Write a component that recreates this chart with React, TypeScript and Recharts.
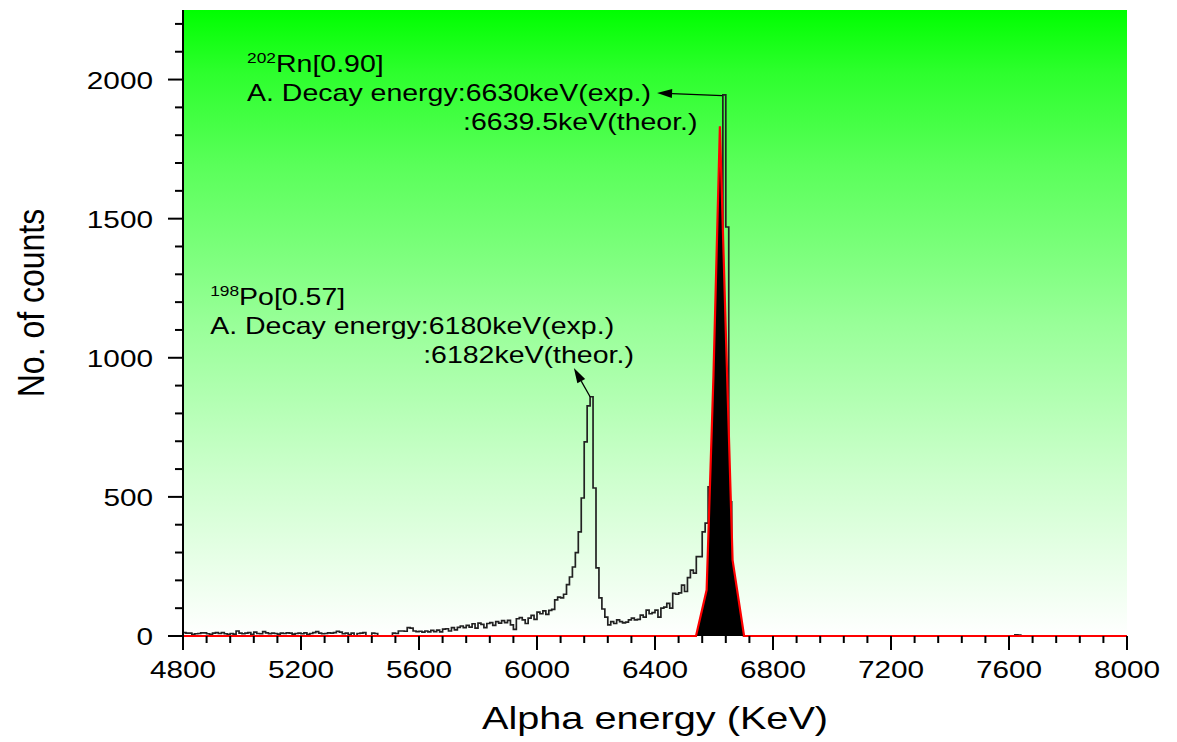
import React from 'react';
import {
  ComposedChart,
  Area,
  XAxis,
  YAxis,
  CartesianGrid,
  ReferenceLine,
  ReferenceDot,
  Label,
} from 'recharts';

// Alpha spectrum histogram: 10 keV bins starting at 4800 keV
const BIN_START = 4800;
const BIN_WIDTH = 10;
const HIST_END = 8000;

const counts: number[] = [
  // 4800
  12, 10, 10, 6, 8, 9, 11, 11, 8, 6,
  // 4900
  10, 12, 9, 12, 8, 6, 9, 7, 18, 10,
  // 5000
  8, 10, 12, 6, 14, 9, 8, 16, 11, 8,
  // 5100
  10, 9, 7, 10, 9, 11, 10, 7, 9, 10,
  // 5200
  8, 11, 6, 9, 12, 16, 10, 8, 9, 11,
  // 5300
  10, 12, 17, 14, 8, 10, 5, 10, 0, 9,
  // 5400
  10, 12, 0, 0, 10, 9, 0, 0, 0, 0,
  // 5500
  0, 10, 9, 18, 18, 17, 30, 28, 18, 16,
  // 5600
  17, 14, 18, 15, 20, 16, 21, 15, 25, 26,
  // 5700
  18, 30, 22, 31, 36, 30, 38, 32, 44, 28,
  // 5800
  46, 42, 30, 45, 48, 38, 52, 46, 55, 48,
  // 5900
  56, 40, 24, 62, 66, 58, 45, 64, 74, 60,
  // 6000
  86, 80, 90, 78, 92, 96, 130, 140, 137, 150,
  // 6100
  185, 212, 248, 300, 374, 496, 698, 827, 860, 532,
  // 6200
  245, 137, 97, 68, 40, 52, 45, 58, 52, 47,
  // 6300
  50, 58, 64, 58, 60, 75, 68, 93, 80, 84,
  // 6400
  93, 68, 100, 104, 117, 100, 153, 150, 155, 183,
  // 6500
  160, 210, 237, 226, 285, 285, 374, 406, 536, 650,
  // 6600
  850, 1100, 1350, 1945, 1470, 482, 200, 60, 15, 5,
  // 6700
  0, 0, 0, 0, 0, 0, 0, 0, 0, 0,
  // 6800
  0, 0, 0, 0, 0, 0, 0, 0, 0, 0,
  // 6900
  0, 0, 0, 0, 0, 0, 0, 0, 0, 0,
  // 7000
  0, 0, 0, 0, 0, 0, 0, 0, 0, 0,
  // 7100
  0, 0, 0, 0, 0, 0, 0, 0, 0, 0,
  // 7200
  0, 0, 0, 0, 0, 0, 0, 0, 0, 0,
  // 7300
  0, 0, 0, 0, 0, 0, 0, 0, 0, 0,
  // 7400
  0, 0, 0, 0, 0, 0, 0, 0, 0, 0,
  // 7500
  0, 0, 0, 0, 0, 0, 0, 0, 0, 0,
  // 7600
  0, 0, 4, 3, 0, 0, 0, 0, 0, 0,
  // 7700
  0, 0, 0, 0, 0, 0, 0, 0, 0, 0,
  // 7800
  0, 0, 0, 0, 0, 0, 0, 0, 0, 0,
  // 7900
  0, 0, 0, 0, 0, 0, 0, 0, 0, 0,
];

// Fitted 202Rn peak (filled), zero elsewhere
const fitEnergy: number[] = [4800, 6539, 6575, 6598, 6620, 6641, 6663, 6702, 8000];
const fitCounts: number[] = [0, 0, 165, 930, 1832, 1060, 273, 0, 0];

// Axis ticks
const xTicks: number[] = [
  4800, 4880, 4960, 5040, 5120, 5200, 5280, 5360, 5440, 5520, 5600, 5680, 5760, 5840,
  5920, 6000, 6080, 6160, 6240, 6320, 6400, 6480, 6560, 6640, 6720, 6800, 6880, 6960,
  7040, 7120, 7200, 7280, 7360, 7440, 7520, 7600, 7680, 7760, 7840, 7920, 8000,
];
const xLabelTicks: number[] = [4800, 5200, 5600, 6000, 6400, 6800, 7200, 7600, 8000];
const yTicks: number[] = [
  0, 100, 200, 300, 400, 500, 600, 700, 800, 900, 1000, 1100, 1200, 1300, 1400, 1500,
  1600, 1700, 1800, 1900, 2000, 2100, 2200,
];
const yLabelTicks: number[] = [0, 500, 1000, 1500, 2000];

// Peak annotations
const rnPeakEnergy = 6630;
const poPeakEnergy = 6180;
const rnArrowTip = { x: 6407, y: 1952 };
const poArrowTip = { x: 6125, y: 963 };
const rnTextAnchor = { x: 5017, y: 1923 };
const poTextAnchor = { x: 4892, y: 1086 };

const histData = counts
  .map((c, i) => ({ energy: BIN_START + i * BIN_WIDTH, counts: c }))
  .concat([{ energy: HIST_END, counts: 0 }]);
const fitData = fitEnergy.map((e, i) => ({ energy: e, fit: fitCounts[i] }));
const countAt = (e: number) => histData.find((d) => d.energy === e)?.counts ?? 0;

const FONT = '"Liberation Sans", Arial, Helvetica, sans-serif';
const SX = 1.24;

const XTick = (props: any) => {
  const { x, y, payload } = props;
  const v = payload.value as number;
  const major = xLabelTicks.includes(v);
  return (
    <g>
      <line x1={x} x2={x} y1={y} y2={y + (major ? 14 : 7)} stroke="#000" strokeWidth={2} />
      {major && (
        <text
          transform={`translate(${x},${y + 42}) scale(${SX},1)`}
          textAnchor="middle"
          fontSize={24}
          fontFamily={FONT}
          fill="#000"
        >
          {v}
        </text>
      )}
    </g>
  );
};

const YTick = (props: any) => {
  const { x, y, payload } = props;
  const v = payload.value as number;
  const major = yLabelTicks.includes(v);
  return (
    <g>
      <line x1={x - (major ? 15 : 8)} x2={x} y1={y} y2={y} stroke="#000" strokeWidth={2} />
      {major && (
        <text
          transform={`translate(${x - 30},${y + 9}) scale(${SX},1)`}
          textAnchor="end"
          fontSize={24}
          fontFamily={FONT}
          fill="#000"
        >
          {v}
        </text>
      )}
    </g>
  );
};

const XTitle = (props: any) => {
  const vb = props.viewBox || {};
  const cx = vb.x + vb.width / 2;
  return (
    <text
      transform={`translate(${cx},${vb.y + 93}) scale(${SX},1)`}
      textAnchor="middle"
      fontSize={32}
      fontFamily={FONT}
      fill="#000"
    >
      Alpha energy (KeV)
    </text>
  );
};

const YTitle = (props: any) => {
  const vb = props.viewBox || {};
  const cy = vb.y + vb.height / 2 - 20;
  return (
    <text
      transform={`translate(36,${cy}) scale(1.16,1) rotate(-90)`}
      textAnchor="middle"
      fontSize={32}
      fontFamily={FONT}
      fill="#000"
    >
      No. of counts
    </text>
  );
};

// Line with a filled arrowhead at the left end
const Arrow = (p: any) => {
  const a = { x: p.x1, y: p.y1 };
  const b = { x: p.x2, y: p.y2 };
  const tip = a.x < b.x ? a : b;
  const tail = a.x < b.x ? b : a;
  const ang = Math.atan2(tip.y - tail.y, tip.x - tail.x);
  const L = 15;
  const W = 4.5;
  const bx = tip.x - L * Math.cos(ang);
  const by = tip.y - L * Math.sin(ang);
  const px = -Math.sin(ang) * W;
  const py = Math.cos(ang) * W;
  return (
    <g>
      <line x1={tail.x} y1={tail.y} x2={bx} y2={by} stroke="#000" strokeWidth={1.3} />
      <polygon
        points={`${tip.x},${tip.y} ${bx + px},${by + py} ${bx - px},${by - py}`}
        fill="#000"
      />
    </g>
  );
};

const textLine = (dx: number, dy: number, content: React.ReactNode, key: string, cx: number, cy: number) => (
  <text
    key={key}
    transform={`translate(${cx + dx},${cy + dy}) scale(${SX},1)`}
    fontSize={23}
    fontFamily={FONT}
    fill="#000"
  >
    {content}
  </text>
);

const makeNote = (mass: string, nuclide: string, exp: string, theor: string, theorDx: number) =>
  (p: any) => {
    const { cx, cy } = p;
    return (
      <g>
        {textLine(
          0,
          -29,
          <>
            <tspan fontSize={14} dy={-9}>{mass}</tspan>
            <tspan dy={9}>{nuclide}</tspan>
          </>,
          'l1',
          cx,
          cy
        )}
        {textLine(0, 0, exp, 'l2', cx, cy)}
        {textLine(theorDx, 29, theor, 'l3', cx, cy)}
      </g>
    );
  };

const rnNote = makeNote('202', 'Rn[0.90]', 'A. Decay energy:6630keV(exp.)', ':6639.5keV(theor.)', 216);
const poNote = makeNote('198', 'Po[0.57]', 'A. Decay energy:6180keV(exp.)', ':6182keV(theor.)', 213);

export default function App() {
  return (
    <ComposedChart
      width={1160}
      height={730}
      margin={{ top: 2, right: 41, bottom: 2, left: 0 }}
    >
      <defs>
        <linearGradient id="plotBg" x1="0" y1="0" x2="0" y2="1">
          <stop offset="0" stopColor="rgb(0,255,0)" />
          <stop offset="0.1" stopColor="rgb(45,255,45)" />
          <stop offset="0.25" stopColor="rgb(90,255,90)" />
          <stop offset="0.5" stopColor="rgb(152,255,152)" />
          <stop offset="0.75" stopColor="rgb(206,255,206)" />
          <stop offset="1" stopColor="rgb(255,255,255)" />
        </linearGradient>
      </defs>
      <CartesianGrid horizontal={false} vertical={false} fill="url(#plotBg)" stroke="none" />
      <XAxis
        type="number"
        dataKey="energy"
        domain={[4800, 8000]}
        ticks={xTicks}
        interval={0}
        axisLine={false}
        tickLine={false}
        tickSize={0}
        tickMargin={0}
        tick={<XTick />}
        height={100}
      >
        <Label content={<XTitle />} />
      </XAxis>
      <YAxis
        type="number"
        domain={[0, 2250]}
        ticks={yTicks}
        interval={0}
        axisLine={{ stroke: '#000', strokeWidth: 2 }}
        tickLine={false}
        tickSize={0}
        tickMargin={0}
        tick={<YTick />}
        width={175}
      >
        <Label content={<YTitle />} />
      </YAxis>
      <Area
        data={histData}
        dataKey="counts"
        type="stepAfter"
        stroke="#222"
        strokeWidth={1.7}
        fill="none"
        dot={false}
        activeDot={false}
        isAnimationActive={false}
      />
      <Area
        data={fitData}
        dataKey="fit"
        type="linear"
        stroke="#ff0000"
        strokeWidth={2.2}
        fill="#000"
        fillOpacity={1}
        dot={false}
        activeDot={false}
        isAnimationActive={false}
      />
      <ReferenceLine
        segment={[
          { x: rnPeakEnergy - 2, y: countAt(rnPeakEnergy) - 3 },
          rnArrowTip,
        ]}
        shape={Arrow}
      />
      <ReferenceLine
        segment={[{ x: poPeakEnergy, y: countAt(poPeakEnergy) }, poArrowTip]}
        shape={Arrow}
      />
      <ReferenceDot x={rnTextAnchor.x} y={rnTextAnchor.y} r={0} shape={rnNote} />
      <ReferenceDot x={poTextAnchor.x} y={poTextAnchor.y} r={0} shape={poNote} />
    </ComposedChart>
  );
}
